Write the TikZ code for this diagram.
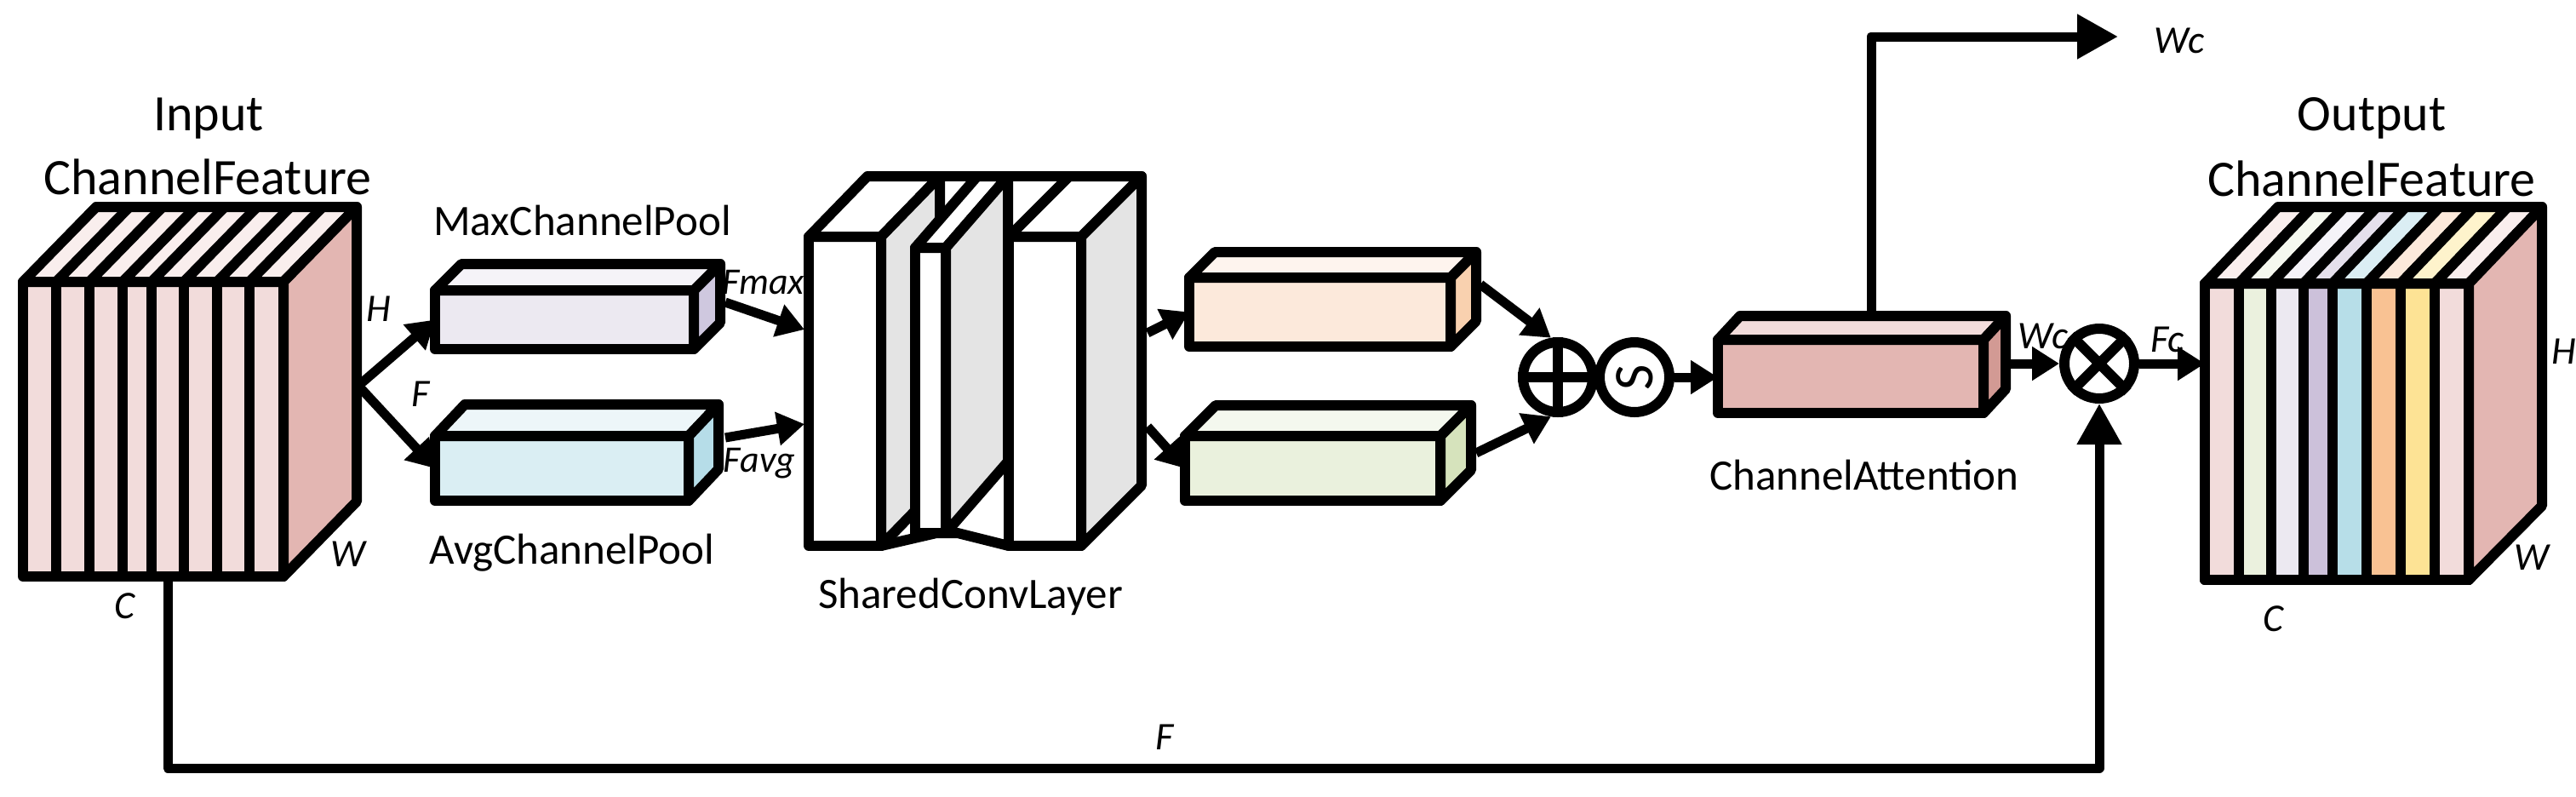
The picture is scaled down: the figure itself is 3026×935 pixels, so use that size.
\documentclass[tikz,border=0pt]{standalone}
\usepackage{fontspec}
\setmainfont{Carlito}
\usetikzlibrary{arrows.meta}

% front, top and side colours of the boxes
\definecolor{inf}{HTML}{F2DCDB}\definecolor{int}{HTML}{F9EEED}\definecolor{ins}{HTML}{E3B6B2}
\definecolor{maxf}{HTML}{ECE9F1}\definecolor{maxt}{HTML}{F5F3F8}\definecolor{maxs}{HTML}{CFC8DF}
\definecolor{avgf}{HTML}{DAEEF3}\definecolor{avgt}{HTML}{EDF6F9}\definecolor{avgs}{HTML}{B6DDE8}
\definecolor{convf}{HTML}{FFFFFF}\definecolor{convt}{HTML}{FFFFFF}\definecolor{convs}{HTML}{E4E4E4}
\definecolor{orgf}{HTML}{FCE9DB}\definecolor{orgt}{HTML}{FEF4EE}\definecolor{orgs}{HTML}{F9D1AF}
\definecolor{grnf}{HTML}{EAF1DD}\definecolor{grnt}{HTML}{F4F8EE}\definecolor{grns}{HTML}{D6E3BC}
\definecolor{attf}{HTML}{E3B6B2}\definecolor{attt}{HTML}{F2DCDB}\definecolor{atts}{HTML}{D29A94}

% #1 name, #2 #3 front top-left, #4 #5 size, #6 #7 depth, #8 colour prefix
\newcommand{\cuboid}[8]{%
  \node [face, fill=#8f, minimum width=#4pt, minimum height=#5pt]
    (#1) at ({#2+#4/2},{#3+#5/2}) {};
  \draw [edge, fill=#8t] (#1.north west) -- ++(#6,-#7) -- ++(#4,0) -- ++(-#6,#7) -- cycle;
  \draw [edge, fill=#8s] (#1.north east) -- ++(#6,-#7) -- ++(0,#5) -- (#1.south east) -- cycle;
}

\begin{document}
\begin{tikzpicture}[%
    x=1pt, y=-1pt,
    ]
\tikzset{
  edge/.style={draw, line width=12pt, line join=round},
  face/.style={edge, rectangle, inner sep=0pt, outer sep=0pt},
  oper/.style={edge, circle, fill=white, inner sep=0pt, minimum size=82pt},
  flow/.style={-{Triangle[length=32pt,width=38pt]}, line width=11pt},
  bigflow/.style={-{Triangle[length=48pt,width=50pt]}, line width=11pt, line join=round},
  head/.style={font=\fontsize{60}{70}\selectfont},
  tag/.style={font=\fontsize{51}{60}\selectfont},
  dim/.style={font=\fontsize{46}{54}\selectfont\itshape},
}
\useasboundingbox (0,0) rectangle (3026,935);
% -------------------------------------------------
% Input cube
\cuboid{input}{27}{331}{306}{346}{86}{88}{in}
\foreach \sx in {66,105,144,178,216,255,293}{
  \draw [edge] (\sx,331) -- (\sx,677);
  \draw [edge] (\sx,331) -- ++(86,-88);
}
% Pools
\cuboid{maxpool}{511}{341}{304}{69}{31}{31}{max}
\cuboid{avgpool}{511}{512}{298}{76}{35}{37}{avg}
% Shared convolution layers
\draw [edge] (1019,207) -- (1341,207);
\cuboid{conva}{950}{278}{85}{363}{69}{71}{conv}
\draw [edge] (conva.south east) -- (1100,626) -- (1125,626) -- (1185,641);
\cuboid{convb}{1075}{291}{36}{335}{73}{84}{conv}
\cuboid{convc}{1185}{278}{85}{363}{71}{71}{conv}
% After the shared layers
\cuboid{orange}{1397}{326}{307}{81}{30}{30}{org}
\cuboid{green}{1392}{512}{300}{76}{36}{36}{grn}
\cuboid{attention}{2018}{399}{312}{86}{26}{28}{att}
% Operators
\node [oper] (plus) at (1830,443) {};
\draw [edge] (plus.north) -- (plus.south);
\draw [edge] (plus.west) -- (plus.east);
\node [oper, font=\fontsize{66}{70}\selectfont, rotate=90] (sigmoid) at (1920,443) {S};
\node [oper] (times) at (2466,427) {};
\draw [edge] (times.45) -- (times.225);
\draw [edge] (times.135) -- (times.315);
% Output cube
\node [face, fill=inf, minimum width=310pt, minimum height=348pt] (output) at (2745,507) {};
\foreach \xa/\xb/\cf/\ct in {2590/2630/F2DCDB/F9EEED, 2630/2668/EBF1DE/F5F8EF, 2668/2706/ECE9F1/F5F3F8,
    2706/2740/CCC1DA/E5E0EC, 2740/2780/B7DEE8/DBEEF4, 2780/2820/F9C293/FCE9DB,
    2820/2860/FDE395/FEF3CC, 2860/2900/F2DCDB/F9EEED}{
  \definecolor{cf}{HTML}{\cf}\definecolor{ct}{HTML}{\ct}
  \draw [edge, fill=cf] (\xa,333) rectangle (\xb,681);
  \draw [edge, fill=ct] (\xa,333) -- ++(86,-90) -- ++(\xb-\xa,0) -- (\xb,333) -- cycle;
}
\draw [edge, fill=ins] (output.north east) -- ++(86,-90) -- ++(0,351) -- (output.south east) -- cycle;
% -------------------------------------------------
% Free ends of the connectors
\coordinate (split) at (421,453);
\coordinate (maxout) at (852,355);
\coordinate (avgout) at (852,514);
\coordinate (maxin) at (945,387);
\coordinate (avgin) at (945,498);
\coordinate (convup) at (1348,391);
\coordinate (convdown) at (1348,501);
\coordinate (orgout) at (1739,334);
\coordinate (grnout) at (1734,532);
\coordinate (attout) at (2360,427);
\coordinate (attup) at (2198,371);
\coordinate (wctip) at (2488,43);
\coordinate (skipa) at (197,677);
\coordinate (skipb) at (197,902);

\draw[flow] (split) to (maxpool.west);
\draw[flow] (split) to (avgpool.west);
\draw[flow] (maxout) to (maxin);
\draw[flow] (avgout) to (avgin);
\draw[flow] (convup) to (orange.west);
\draw[flow] (convdown) to (green.west);
\draw[flow] (orgout) to (plus.100);
\draw[flow] (grnout) to (plus.260);
\draw[flow] (sigmoid.south) to (sigmoid.south -| attention.west);
\draw[flow] (attout) to (times.west);
\draw[flow] (times.east) to (times.east -| output.west);
\draw[bigflow] (attup) |- (wctip);
\draw[bigflow] (skipa) -- (skipb) -| (times.south);
% -------------------------------------------------
% Texts
\node [head] (intitle) at (245,139) {Input};
\node [head] (infeat) at (244,208) {ChannelFeature};
\node [head] (outtitle) at (2786,139) {Output};
\node [head] (outfeat) at (2786,210) {ChannelFeature};
\node [tag] (maxname) at (684,259) {MaxChannelPool};
\node [tag] (avgname) at (672,649) {AvgChannelPool};
\node [tag] (convname) at (1140,701) {SharedConvLayer};
\node [tag] (attname) at (2190,558) {ChannelAttention};
\node [dim] (inh) at (445,363) {H};
\node [dim] (inf) at (494,463) {F};
\node [dim] (inw) at (409,651) {W};
\node [dim] (inc) at (147,712) {C};
\node [dim, font=\fontsize{44}{54}\selectfont\itshape] (fmax) at (897,332) {Fmax};
\node [dim, font=\fontsize{44}{54}\selectfont\itshape] (favg) at (892,544) {Favg};
\node [dim] (wcatt) at (2400,395) {Wc};
\node [dim] (fcout) at (2546,399) {Fc};
\node [dim] (wctop) at (2560,48) {Wc};
\node [dim] (skipf) at (1368,866) {F};
\node [dim] (outh) at (3012,413) {H};
\node [dim] (outw) at (2974,655) {W};
\node [dim] (outc) at (2670,727) {C};
% -------------------------------------------------
\end{tikzpicture}
\end{document}
